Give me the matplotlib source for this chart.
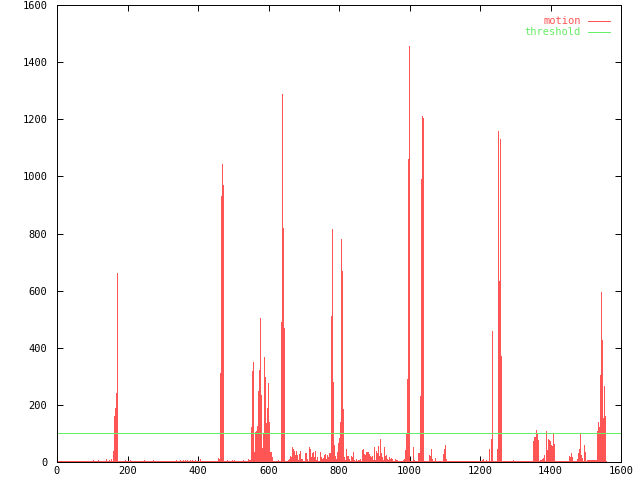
import numpy as np
import matplotlib.pyplot as plt

# motion per frame (only frames that rise above the quiet level are listed)
frames = [96, 102, 108, 116, 139, 148, 153, 159, 162, 164, 167, 170,
          193, 207, 247, 272, 338, 349, 357, 363, 370, 377, 384, 391, 406,
          457, 460, 462, 465, 468, 471, 482, 496, 502, 528,
          542, 545, 548, 550, 553, 556, 559, 562, 565, 567, 570, 573, 576,
          579, 582, 584, 587, 590, 593, 596, 599, 601, 604, 607, 610, 627,
          635, 638, 641, 644, 655, 658, 661, 664, 667, 669, 672, 675, 678,
          681, 684, 687, 689, 692, 695, 704, 706, 709, 715, 718, 721, 723,
          726, 729, 732, 735, 738, 740, 746, 749, 752, 755, 757, 760, 763,
          766, 769, 772, 774, 777, 780, 783, 786, 789, 791, 794, 797, 800,
          803, 806, 808, 811, 814, 817, 820, 823, 826, 829,
          834, 837, 840, 843, 848, 854, 857, 860, 865, 868, 871, 874, 877,
          879, 882, 885, 888, 891, 894, 896, 899, 902, 905, 908, 911, 913,
          916, 919, 922, 925, 928, 930, 933, 936, 939, 942, 945, 948, 950,
          959, 962, 965, 982, 984, 987, 990, 993, 996, 999,
          1010, 1013, 1024, 1027, 1030, 1033, 1035, 1038,
          1055, 1058, 1061, 1064, 1072, 1092, 1095, 1098, 1101, 1104, 1155,
          1206, 1209, 1217, 1226, 1231, 1234, 1240, 1248, 1251, 1254, 1257,
          1260, 1294, 1350, 1353, 1356, 1359, 1362, 1365, 1370, 1373, 1376,
          1379, 1382, 1387, 1390, 1393, 1396, 1399, 1401, 1404, 1407, 1410,
          1452, 1455, 1458, 1461, 1475, 1478, 1481, 1484, 1487, 1490, 1495,
          1498, 1504, 1507, 1510, 1512, 1515, 1518, 1521, 1524, 1527, 1529,
          1532, 1535, 1538, 1540, 1543, 1546, 1549, 1552, 1555]
motion = [5, 6, 5, 7, 10, 6, 10, 40, 160, 190, 240, 660,
          6, 6, 6, 6, 7, 6, 8, 8, 7, 8, 7, 8, 10,
          15, 10, 310, 930, 1045, 970, 6, 6, 6, 6,
          10, 6, 6, 124, 320, 351, 36, 106, 110, 125, 250, 322, 505,
          235, 48, 100, 367, 298, 136, 189, 276, 140, 36, 36, 18, 7,
          490, 1290, 820, 470, 6, 10, 22, 18, 51, 44, 37, 26, 37,
          24, 7, 28, 37, 9, 10, 33, 33, 9, 51, 45, 16, 30,
          36, 16, 38, 7, 19, 5, 36, 19, 9, 13, 24, 28, 9,
          23, 16, 33, 33, 510, 815, 280, 60, 20, 9, 36, 65, 83,
          140, 780, 670, 185, 16, 7, 45, 21, 21, 9,
          21, 19, 36, 7, 10, 7, 7, 9, 42, 45, 28, 24, 36,
          36, 36, 28, 21, 16, 21, 7, 54, 7, 37, 30, 56, 21,
          79, 33, 16, 7, 51, 21, 26, 12, 7, 19, 9, 14, 12,
          12, 7, 7, 7, 9, 42, 100, 290, 1060, 1455,
          54, 7, 33, 33, 230, 990, 1210, 1205,
          24, 21, 45, 10, 13, 5, 28, 44, 60, 10, 5,
          7, 10, 7, 45, 80, 460, 5, 45, 1160, 635, 1130,
          370, 7, 74, 89, 86, 112, 98, 77, 7, 7, 9,
          13, 24, 108, 42, 80, 77, 74, 60, 56, 100, 63,
          21, 16, 33, 16, 10, 30, 45, 100, 24, 15, 60,
          36, 7, 7, 7, 7, 7, 7, 7, 7, 7, 7,
          110, 141, 124, 305, 595, 427, 153, 266, 161]

last_frame = 1557
quiet_level = 4
threshold = 100

x_ticks = [0, 200, 400, 600, 800, 1000, 1200, 1400, 1600]
y_ticks = [0, 200, 400, 600, 800, 1000, 1200, 1400, 1600]

RED = '#ff5555'
GREEN = '#66ee66'
LW = 0.7  # about one pixel
plt.rcParams['font.family'] = ['DejaVu Sans Mono']

values = np.full(last_frame + 1, quiet_level, dtype=float)
values[frames] = motion
x = np.arange(last_frame + 1)

fig = plt.figure(figsize=(6.4, 4.8), dpi=100)
ax = fig.add_axes([57 / 640, 18 / 480, 564 / 640, 457 / 480])

ax.vlines(x, 0, values, colors=RED, linewidth=LW, antialiased=False)
ax.axhline(threshold, color=GREEN, linewidth=LW, antialiased=False)

ax.set_xlim(0, 1600)
ax.set_ylim(0, 1600)
ax.set_xticks(x_ticks)
ax.set_yticks(y_ticks)
ax.tick_params(direction='in', length=4, width=LW, top=True, right=True,
               labelsize=7.5)
ax.tick_params(axis='x', pad=3)
ax.tick_params(axis='y', pad=7)
for s in ax.spines.values():
    s.set_linewidth(LW)

# legend, gnuplot style
ax.text(0.929, 0.965, 'motion', color=RED, fontsize=7.5, ha='right', va='center',
        transform=ax.transAxes)
ax.plot([0.9415, 0.9805], [0.965, 0.965], color=RED, linewidth=LW,
        antialiased=False, transform=ax.transAxes)
ax.text(0.929, 0.941, 'threshold', color=GREEN, fontsize=7.5, ha='right', va='center',
        transform=ax.transAxes)
ax.plot([0.9415, 0.9805], [0.941, 0.941], color=GREEN, linewidth=LW,
        antialiased=False, transform=ax.transAxes)

fig.savefig('out.png', dpi=100)
